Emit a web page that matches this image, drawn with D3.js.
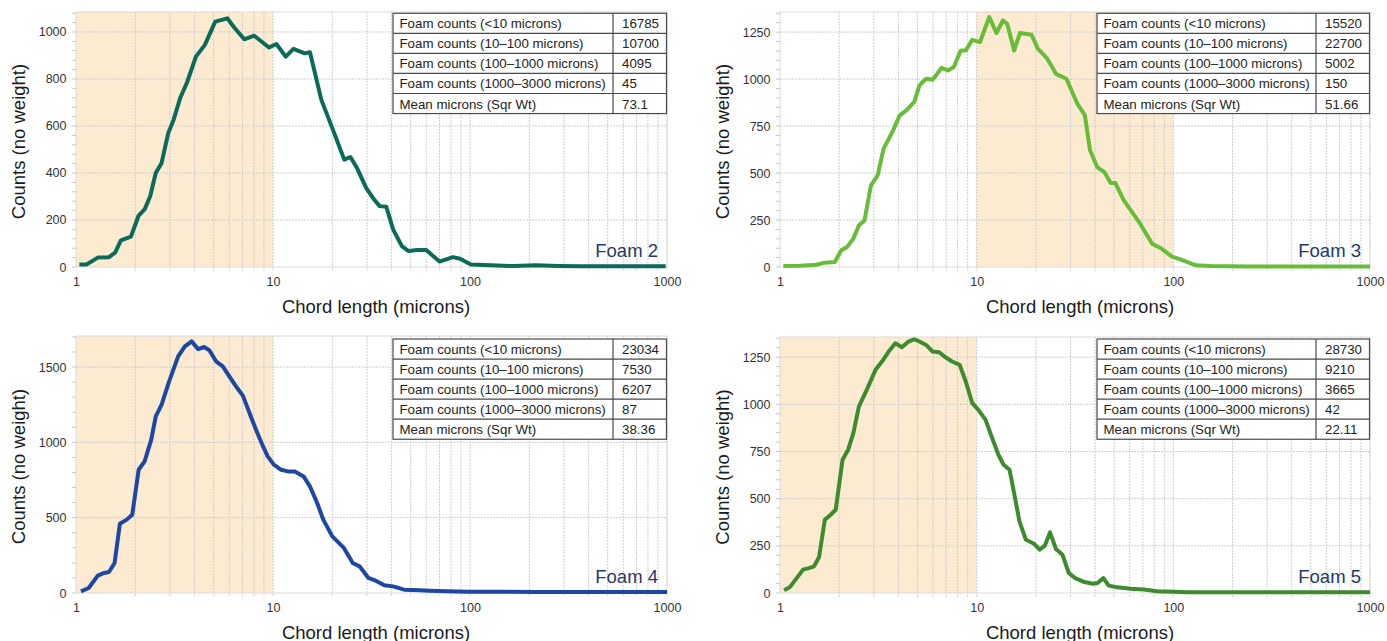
<!DOCTYPE html>
<html>
<head>
<meta charset="utf-8">
<script src="https://cdn.jsdelivr.net/npm/d3@7"></script>
<style>
  html, body { margin: 0; padding: 0; background: #fff; }
  svg { display: block; font-family: "Liberation Sans", Arial, sans-serif; }
</style>
</head>
<body>
<svg id="chart" width="1387" height="641"></svg>
<script>
// ---------------- DATA ----------------
const xTickValues = [1, 10, 100, 1000];
const rowLabels = [
  "Foam counts (<10 microns)",
  "Foam counts (10\u2013100 microns)",
  "Foam counts (100\u20131000 microns)",
  "Foam counts (1000\u20133000 microns)",
  "Mean microns (Sqr Wt)"
];

const foam2Names = "Foam 2";
const foam2Table = ["16785", "10700", "4095", "45", "73.1"];
const foam2Shade = [1, 10];
const foam2YTicks = [0, 200, 400, 600, 800, 1000];
const foam2X = [1.04,1.13,1.29,1.47,1.58,1.69,1.90,2.08,2.23,2.38,2.54,2.72,2.94,3.13,3.38,3.66,4.06,4.51,5.09,5.87,6.34,7.15,8.03,9.54,10.4,11.6,12.7,14.5,15.4,17.6,20.0,23.0,24.7,26.7,29.7,32.6,34.8,37.6,40.7,45.1,48.8,54.0,60.0,70.0,82,89,101,128,166,216,281,365,613,985];
const foam2Y = [11,11,40,42,61,113,129,219,245,301,400,443,570,627,719,785,895,945,1044,1058,1020,969,984,934,949,895,928,909,914,711,591,457,468,421,337,287,259,256,160,89,68,72,72,23,42,35,11,7,4,7,4,3,3,3];

const foam3Names = "Foam 3";
const foam3Table = ["15520", "22700", "5002", "150", "51.66"];
const foam3Shade = [10, 100];
const foam3YTicks = [0, 250, 500, 750, 1000, 1250];
const foam3X = [1.04,1.27,1.53,1.69,1.90,2.05,2.19,2.36,2.52,2.69,2.90,3.14,3.36,3.76,4.06,4.39,4.81,5.12,5.53,5.97,6.62,7.15,7.65,8.3,8.8,9.5,10.4,11.6,12.6,13.6,14.3,15.5,16.6,19.0,20.5,22.7,25.3,28.6,32.5,35.5,37.7,41,44.6,48,50.7,56,67,78,87,98,112,130,155,240,1000];
const foam3Y = [5,7,12,23,27,89,106,151,222,248,434,488,629,727,807,833,878,966,1002,996,1059,1046,1064,1152,1152,1209,1197,1330,1245,1312,1294,1152,1245,1236,1161,1113,1028,1002,869,807,621,532,505,447,447,355,239,124,98,57,35,9,5,2,2];

const foam4Names = "Foam 4";
const foam4Table = ["23034", "7530", "6207", "87", "38.36"];
const foam4Shade = [1, 10];
const foam4YTicks = [0, 500, 1000, 1500];
const foam4X = [1.06,1.16,1.29,1.39,1.47,1.57,1.67,1.81,1.93,2.08,2.23,2.41,2.54,2.72,2.97,3.30,3.57,3.86,4.17,4.47,4.75,5.14,5.56,6.0,6.49,7.03,7.6,8.2,8.9,9.4,10.1,11.0,11.9,12.9,14.3,15.4,16.7,18.0,20,22.9,25.4,27.5,30.5,32.9,36.7,40.7,46.3,55.6,62,76,98,216,1000];
const foam4Y = [11,33,115,133,139,199,460,487,520,818,874,1018,1173,1250,1405,1571,1637,1670,1619,1633,1611,1538,1504,1438,1372,1310,1195,1084,973,907,852,818,807,807,774,708,602,487,376,299,199,177,100,84,51,44,22,18,15,11,9,7,7];

const foam5Names = "Foam 5";
const foam5Table = ["28730", "9210", "3665", "42", "22.11"];
const foam5Shade = [1, 10];
const foam5YTicks = [0, 250, 500, 750, 1000, 1250];
const foam5X = [1.05,1.12,1.20,1.31,1.40,1.49,1.58,1.69,1.81,1.92,2.08,2.22,2.36,2.52,2.76,3.06,3.30,3.57,3.86,4.17,4.5,4.81,5.12,5.53,5.97,6.45,6.97,7.5,8.2,8.8,9.5,10.2,11.1,11.9,12.9,13.7,14.7,15.5,16.5,17.8,19.6,20.9,22.2,23.6,25.3,27.3,29.4,31.7,35.3,39.0,41.2,44.1,46.9,51.9,60.7,71,82.5,101,118,188,1000];
const foam5Y = [14,30,71,124,132,141,191,388,415,441,706,759,847,989,1077,1183,1227,1280,1324,1303,1333,1345,1333,1315,1280,1276,1248,1227,1209,1121,1006,971,918,830,733,680,653,530,380,282,261,230,251,321,233,203,106,79,58,49,53,79,39,30,23,18,9,7,4,4,4];

// ---------------- LAYOUT ----------------
const panels = [
  { name: foam2Names, table: foam2Table, shade: foam2Shade, yTicks: foam2YTicks, xs: foam2X, ys: foam2Y,
    color: "#0b6a58", x0: 76, x1: 667, yTop: 12, yBot: 267, yMax: 1085, minorStep: 40, tblTop: 13.3 },
  { name: foam3Names, table: foam3Table, shade: foam3Shade, yTicks: foam3YTicks, xs: foam3X, ys: foam3Y,
    color: "#68bd38", x0: 780, x1: 1370, yTop: 12, yBot: 267, yMax: 1357, minorStep: 50, tblTop: 13.3 },
  { name: foam4Names, table: foam4Table, shade: foam4Shade, yTicks: foam4YTicks, xs: foam4X, ys: foam4Y,
    color: "#1d47a2", x0: 76, x1: 667, yTop: 336, yBot: 593, yMax: 1706, minorStep: 100, tblTop: 339 },
  { name: foam5Names, table: foam5Table, shade: foam5Shade, yTicks: foam5YTicks, xs: foam5X, ys: foam5Y,
    color: "#3e8b2f", x0: 780, x1: 1370, yTop: 337, yBot: 593, yMax: 1357, minorStep: 50, tblTop: 339 }
];

const svg = d3.select("#chart");
const gridColor = "#cfcfcf";

panels.forEach(p => {
  const g = svg.append("g");
  const x = d3.scaleLog().domain([1, 1000]).range([p.x0, p.x1]);
  const y = d3.scaleLinear().domain([0, p.yMax]).range([p.yBot, p.yTop]);

  // shaded region
  g.append("rect")
    .attr("x", x(p.shade[0])).attr("y", p.yTop)
    .attr("width", x(p.shade[1]) - x(p.shade[0]))
    .attr("height", p.yBot - p.yTop)
    .attr("fill", "#fcead1");

  // vertical grid lines (log)
  const logTicks = [];
  [1, 10, 100].forEach(d => { for (let k = 1; k <= 9; k++) logTicks.push(k * d); });
  logTicks.push(1000);
  g.selectAll(".vg").data(logTicks.filter(v => v > 1)).enter().append("line")
    .attr("x1", d => x(d)).attr("x2", d => x(d))
    .attr("y1", p.yTop).attr("y2", p.yBot + 4)
    .attr("stroke", gridColor).attr("stroke-width", 1)
    .attr("stroke-dasharray", "2 1");

  // horizontal grid lines
  g.selectAll(".hg").data(p.yTicks.filter(v => v > 0)).enter().append("line")
    .attr("x1", p.x0).attr("x2", p.x1)
    .attr("y1", d => y(d)).attr("y2", d => y(d))
    .attr("stroke", gridColor).attr("stroke-width", 1)
    .attr("stroke-dasharray", "2 1");

  // frame
  g.append("rect")
    .attr("x", p.x0).attr("y", p.yTop)
    .attr("width", p.x1 - p.x0).attr("height", p.yBot - p.yTop)
    .attr("fill", "none").attr("stroke", "#dcdcdc").attr("stroke-width", 1);

  // minor y ticks
  const minor = d3.range(0, p.yMax, p.minorStep);
  g.selectAll(".my").data(minor).enter().append("line")
    .attr("x1", p.x0 - 4).attr("x2", p.x0)
    .attr("y1", d => y(d)).attr("y2", d => y(d))
    .attr("stroke", "#c8c8c8").attr("stroke-width", 1);

  // x axis ticks/labels
  const xAxis = d3.axisBottom(x).tickValues(xTickValues).tickFormat(d3.format("d")).tickSize(0).tickPadding(10);
  const xa = g.append("g").attr("transform", `translate(0,${p.yBot})`).call(xAxis);
  xa.select(".domain").remove();
  xa.selectAll("text").attr("font-size", "12.5px").attr("fill", "#333")
    .attr("font-family", "'Liberation Sans', Arial, sans-serif");

  // y axis labels
  const yAxis = d3.axisLeft(y).tickValues(p.yTicks).tickFormat(d3.format("d")).tickSize(0).tickPadding(9.5);
  const ya = g.append("g").attr("transform", `translate(${p.x0},0)`).call(yAxis);
  ya.select(".domain").remove();
  ya.selectAll("text").attr("font-size", "12.5px").attr("fill", "#333")
    .attr("font-family", "'Liberation Sans', Arial, sans-serif");

  // data line
  const pts = p.xs.map((v, i) => [v, p.ys[i]]);
  const line = d3.line().x(d => x(d[0])).y(d => y(d[1]));
  g.append("path").datum(pts)
    .attr("d", line)
    .attr("fill", "none")
    .attr("stroke", p.color)
    .attr("stroke-width", 4)
    .attr("stroke-linejoin", "round")
    .attr("stroke-linecap", "butt");

  // table
  const tx0 = p.x0 + 317, tx1 = p.x1 - 0.5, tsplit = p.x1 - 54;
  const rh = 20.05;
  const tbl = g.append("g");
  tbl.append("rect").attr("x", tx0).attr("y", p.tblTop)
    .attr("width", tx1 - tx0).attr("height", rh * rowLabels.length)
    .attr("fill", "#fff").attr("stroke", "#4a4a4a").attr("stroke-width", 1.2);
  rowLabels.forEach((lab, i) => {
    const ry = p.tblTop + i * rh;
    if (i > 0) {
      tbl.append("line").attr("x1", tx0).attr("x2", tx1)
        .attr("y1", ry).attr("y2", ry).attr("stroke", "#4a4a4a").attr("stroke-width", 1.2);
    }
    tbl.append("text").attr("x", tx0 + 6.5).attr("y", ry + 15)
      .attr("font-size", "13.3px").attr("fill", "#222").text(lab);
    tbl.append("text").attr("x", tsplit + 9).attr("y", ry + 15)
      .attr("font-size", "13.3px").attr("fill", "#222").text(p.table[i]);
  });
  tbl.append("line").attr("x1", tsplit).attr("x2", tsplit)
    .attr("y1", p.tblTop).attr("y2", p.tblTop + rh * rowLabels.length)
    .attr("stroke", "#4a4a4a").attr("stroke-width", 1.2);

  // foam label
  g.append("text").attr("x", p.x1 - 9).attr("y", p.yBot - 10.3)
    .attr("text-anchor", "end").attr("font-size", "18.5px").attr("fill", "#253a6b")
    .text(p.name);

  // axis titles
  g.append("text").attr("x", p.x0 + 300).attr("y", p.yBot + 45.5)
    .attr("text-anchor", "middle").attr("font-size", "18.5px").attr("fill", "#1a1a1a")
    .text("Chord length (microns)");
  const cy = (p.yTop + p.yBot) / 2 + 2;
  g.append("text")
    .attr("transform", `translate(${p.x0 - 51},${cy}) rotate(-90)`)
    .attr("text-anchor", "middle").attr("font-size", "18.5px").attr("fill", "#1a1a1a")
    .text("Counts (no weight)");
});
</script>
</body>
</html>
